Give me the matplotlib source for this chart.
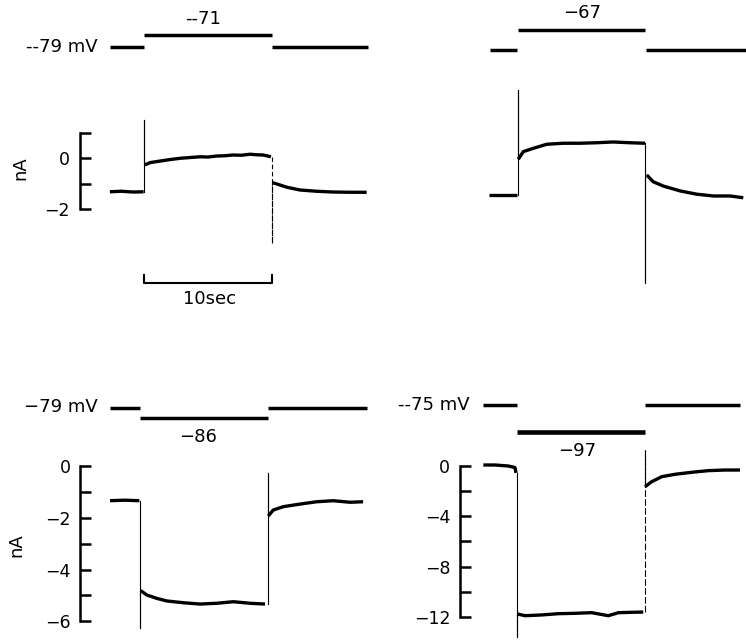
import matplotlib
matplotlib.use('Agg')
import matplotlib.pyplot as plt

plt.rcParams['font.family'] = ['DejaVu Sans']

# ---------------- data ----------------
# Panel A: holding -79 mV, step to -71 mV (10 s)
A_hold_mv, A_step_mv = -79, -71
A_pre_t = [-2.7, -1.8, -0.9, -0.05]
A_pre_i = [-1.32, -1.30, -1.33, -1.32]
A_step_t = [0.05, 0.45, 1.23, 2.02, 2.8, 3.58, 4.37, 5.0, 5.68, 6.3, 6.96, 7.6, 8.3, 8.8, 9.3, 9.6, 9.93]
A_step_i = [-0.26, -0.17, -0.11, -0.05, 0.0, 0.03, 0.06, 0.05, 0.09, 0.10, 0.13, 0.12, 0.16, 0.14, 0.13, 0.10, 0.06]
A_post_t = [10.05, 10.38, 11.17, 12.2, 13.5, 14.8, 16.1, 17.44]
A_post_i = [-0.96, -1.01, -1.14, -1.25, -1.30, -1.33, -1.34, -1.34]
A_on_peak, A_off_peak = 1.51, -3.35

# Panel B: holding -79 mV, step to -67 mV
B_hold_mv, B_step_mv = -79, -67
B_pre_t = [-2.3, -1.2, -0.05]
B_pre_i = [-1.32, -1.32, -1.32]
B_step_t = [0.02, 0.42, 1.2, 2.25, 3.55, 4.86, 6.17, 7.47, 8.78, 9.96]
B_step_i = [0.09, 0.39, 0.52, 0.68, 0.72, 0.72, 0.74, 0.77, 0.74, 0.72]
B_post_t = [10.09, 10.61, 11.4, 12.71, 14.02, 15.32, 16.63, 17.67]
B_post_i = [-0.53, -0.80, -0.97, -1.16, -1.29, -1.36, -1.36, -1.43]
B_on_peak, B_off_peak = 2.82, -4.80

# Panel C: holding -79 mV, step to -86 mV
C_hold_mv, C_step_mv = -79, -86
C_pre_t = [-2.35, -1.2, -0.05]
C_pre_i = [-1.34, -1.32, -1.34]
C_step_t = [0.05, 0.53, 1.31, 2.09, 3.4, 4.71, 6.02, 7.32, 8.63, 9.8]
C_step_i = [-4.81, -4.98, -5.11, -5.21, -5.28, -5.33, -5.30, -5.24, -5.30, -5.33]
C_post_t = [10.06, 10.45, 11.24, 12.55, 13.86, 15.16, 16.47, 17.5]
C_post_i = [-1.93, -1.70, -1.57, -1.47, -1.38, -1.34, -1.40, -1.38]
C_on_peak, C_off_peak = -6.27, -0.28

# Panel D: holding -75 mV, step to -97 mV
D_hold_mv, D_step_mv = -75, -97
D_pre_t = [-2.64, -1.73, -0.68, -0.16, -0.08]
D_pre_i = [0.08, 0.08, 0.0, -0.12, -0.55]
D_step_t = [0.02, 0.63, 1.94, 3.24, 4.55, 5.86, 7.16, 7.95, 9.0, 9.9]
D_step_i = [-11.76, -11.90, -11.84, -11.74, -11.71, -11.66, -11.90, -11.66, -11.63, -11.61]
D_post_t = [10.04, 10.56, 11.35, 12.39, 13.7, 15.0, 16.31, 17.49]
D_post_i = [-1.65, -1.25, -0.85, -0.66, -0.50, -0.37, -0.32, -0.32]
D_on_peak, D_off_peak = -13.57, 1.27

STEP_DUR = 10  # s

# ---------------- layout ----------------
W, H = 746, 640
fig = plt.figure(figsize=(W / 100, H / 100), dpi=100)
fig.patch.set_facecolor('white')

PPS = 12.75  # pixels per second


def mapped_axes(t0_px, tlim, v0_px, v0, ppu, vlim):
    left = t0_px + tlim[0] * PPS
    right = t0_px + tlim[1] * PPS
    top = v0_px - (vlim[1] - v0) * ppu
    bottom = v0_px - (vlim[0] - v0) * ppu
    ax = fig.add_axes([left / W, 1 - bottom / H, (right - left) / W, (bottom - top) / H])
    ax.set_xlim(*tlim)
    ax.set_ylim(*vlim)
    ax.patch.set_alpha(0)
    for s in ax.spines.values():
        s.set_visible(False)
    ax.set_xticks([])
    ax.set_yticks([])
    return ax


TRACE_LW = 2.4
THIN_LW = 0.8


def draw_current(ax, pre_t, pre_i, st_t, st_i, po_t, po_i, on_peak, off_peak,
                 on_style='-', off_style='-'):
    ax.plot(pre_t, pre_i, color='black', lw=TRACE_LW, solid_capstyle='butt')
    ax.plot(st_t, st_i, color='black', lw=TRACE_LW, solid_capstyle='butt')
    ax.plot(po_t, po_i, color='black', lw=TRACE_LW, solid_capstyle='butt')
    ax.plot([0, 0], [pre_i[-1], on_peak], color='black', lw=THIN_LW, ls=on_style)
    ax.plot([0, 0], [on_peak, st_i[0]], color='black', lw=THIN_LW, ls=on_style)
    ax.plot([STEP_DUR, STEP_DUR], [st_i[-1], off_peak], color='black', lw=THIN_LW, ls=off_style)
    ax.plot([STEP_DUR, STEP_DUR], [off_peak, po_i[0]], color='black', lw=THIN_LW, ls=off_style)


def draw_voltage(ax, t_start, t_end, hold, step, lw=2.5, step_lw=2.5):
    ax.plot([t_start, -0.02], [hold, hold], color='black', lw=lw, solid_capstyle='butt')
    ax.plot([0.0, STEP_DUR], [step, step], color='black', lw=step_lw, solid_capstyle='butt')
    ax.plot([STEP_DUR + 0.05, t_end], [hold, hold], color='black', lw=lw, solid_capstyle='butt')


def style_yaxis(ax, lo, hi, ticks, labels, pad):
    ax.spines['left'].set_visible(True)
    ax.spines['left'].set_bounds(lo, hi)
    ax.spines['left'].set_linewidth(1.8)
    ax.set_yticks(ticks)
    ax.set_yticklabels(labels)
    ax.tick_params(axis='y', direction='in', length=8.2, width=1.8, pad=pad, labelsize=12.5)


def ftext(x, y, s, **kw):
    kw.setdefault('fontsize', 13)
    fig.text(x / W, 1 - y / H, s, **kw)


# ---- Panel A ----
axA = mapped_axes(144.3, ((80 - 144.3) / PPS, 19), 158.3, 0, 25.35, (-6.5, 2.5))
draw_current(axA, A_pre_t, A_pre_i, A_step_t, A_step_i, A_post_t, A_post_i,
             A_on_peak, A_off_peak, off_style=(0, (4, 2.5)))
style_yaxis(axA, -2, 1, [1, 0, -1, -2], ['', '0', '', '\u22122'], 7.5)
# time scale bar
axA.plot([0, 0, STEP_DUR, STEP_DUR], [-4.6, -4.93, -4.93, -4.6], color='black', lw=1.5,
         clip_on=False)
axA.text(5.1, -5.55, '10sec', ha='center', va='center', fontsize=13)
axAv = mapped_axes(144.3, ((80 - 144.3) / PPS, 19), 47, -79, 1.5, (-90, -60))
draw_voltage(axAv, -2.69, 17.57, A_hold_mv, A_step_mv)
ftext(98, 47, '--79 mV', ha='right', va='center')
ftext(203, 19, '--71', ha='center', va='center')
ftext(20, 168, 'nA', rotation=90, ha='center', va='center')

# ---- Panel B ----
axB = mapped_axes(518, (-3, 17.9), 161.5, 0, 25.35, (-5.5, 3.5))
draw_current(axB, B_pre_t, B_pre_i, B_step_t, B_step_i, B_post_t, B_post_i,
             B_on_peak, B_off_peak)
axBv = mapped_axes(517.5, (-3, 17.9), 49.5, -79, 1.625, (-90, -60))
draw_voltage(axBv, -2.15, 17.9, B_hold_mv, B_step_mv)
ftext(582, 13, '\u221267', ha='center', va='center')

# ---- Panel C ----
axC = mapped_axes(140, ((80 - 140) / PPS, 18.5), 466, 0, 25.9, (-7, 1))
draw_current(axC, C_pre_t, C_pre_i, C_step_t, C_step_i, C_post_t, C_post_i,
             C_on_peak, C_off_peak)
style_yaxis(axC, -6, 0, [0, -1, -2, -3, -4, -5, -6],
            ['0', '', '\u22122', '', '\u22124', '', '\u22126'], 6.5)
axCv = mapped_axes(140, ((80 - 140) / PPS, 18.5), 407.5, -79, 1.57, (-95, -70))
draw_voltage(axCv, -2.35, 17.8, C_hold_mv, C_step_mv)
ftext(98, 407, '\u221279 mV', ha='right', va='center')
ftext(198, 437, '\u221286', ha='center', va='center')
ftext(16, 545, 'nA', rotation=90, ha='center', va='center')

# ---- Panel D ----
axD = mapped_axes(517, ((460 - 517) / PPS, 18.5), 466, 0, 12.58, (-14.5, 2.5))
draw_current(axD, D_pre_t, D_pre_i, D_step_t, D_step_i, D_post_t, D_post_i,
             D_on_peak, D_off_peak, off_style=(0, (6, 2)))
style_yaxis(axD, -12, 0, [0, -2, -4, -6, -8, -10, -12],
            ['0', '', '\u22124', '', '\u22128', '', '\u221212'], 7)
axDv = mapped_axes(517, ((460 - 517) / PPS, 18.5), 405, -75, 1.23, (-105, -65))
draw_voltage(axDv, -2.67, 17.5, D_hold_mv, D_step_mv, step_lw=3.3)
ftext(470, 405, '--75 mV', ha='right', va='center')
ftext(577, 451, '\u221297', ha='center', va='center')

fig.savefig('out.png', dpi=100, facecolor='white')
